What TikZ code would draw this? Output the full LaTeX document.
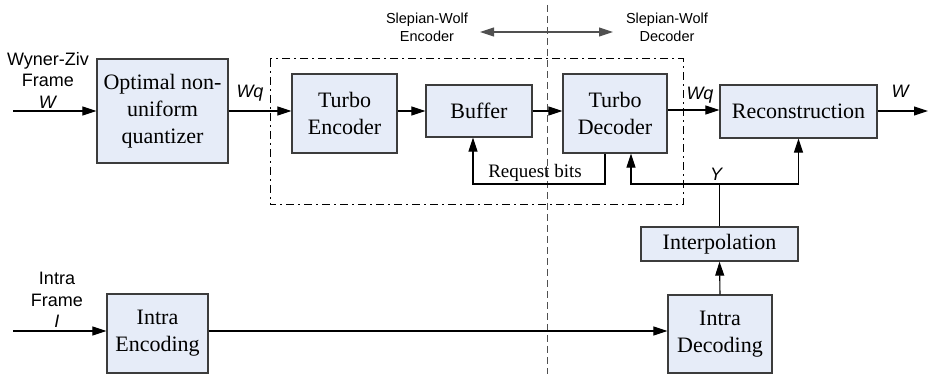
\documentclass[tikz,border=0pt]{standalone}
\usepackage{fontspec}
\setmainfont{Liberation Serif}
\newfontfamily\lsans{Liberation Sans}
\usetikzlibrary{arrows.meta}
\definecolor{boxfill}{HTML}{E6ECF8}
\definecolor{boxline}{HTML}{3C3C3C}
\definecolor{sepline}{HTML}{505050}
\tikzset{
  x=1pt, y=-1pt,
  blk/.style={draw=boxline, fill=boxfill, line width=1.3pt, inner sep=0pt, align=center,
    font=\fontsize{22}{27}\selectfont},
  arr/.style={-{Triangle[length=14pt,width=9pt]}, line width=1.1pt},
  lbl/.style={font=\lsans\fontsize{18}{21.5}\selectfont, align=center, inner sep=0pt},
  ilbl/.style={font=\lsans\itshape\fontsize{18}{21.5}\selectfont, inner sep=0pt},
  swl/.style={font=\lsans\fontsize{14.5}{18}\selectfont, align=center, inner sep=0pt},
}
\begin{document}
\begin{tikzpicture}
\useasboundingbox (0,0) rectangle (930,374);
% separators
\coordinate (vtop) at (547,5);
\coordinate (vbot) at (547,374);
\draw[sepline, line width=1pt, dash pattern=on 7pt off 4pt] (vtop) -- (vbot);
\coordinate (dbA) at (270,59);
\coordinate (dbB) at (683,205);
\draw[line width=1pt, dash pattern=on 8pt off 4pt on 2pt off 4pt] (dbA) rectangle (dbB);
% blocks
\node[blk, minimum width=131pt, minimum height=104pt] (Q) at (162.5,111) {Optimal non-\\uniform\\quantizer};
\node[blk, minimum width=105pt, minimum height=79pt] (TE) at (344.5,113.5) {Turbo\\Encoder};
\node[blk, minimum width=106pt, minimum height=52pt] (Buf) at (479,111) {Buffer};
\node[blk, minimum width=104pt, minimum height=79pt] (TD) at (615,113.5) {Turbo\\Decoder};
\node[blk, minimum width=157pt, minimum height=53pt] (Rec) at (798.5,111.5) {Reconstruction};
\node[blk, minimum width=157pt, minimum height=34pt] (Interp) at (719.5,244) {Interpolation};
\node[blk, minimum width=101pt, minimum height=79pt] (IE) at (157.5,333.5) {Intra\\Encoding};
\node[blk, minimum width=104pt, minimum height=78pt] (ID) at (720,334) {Intra\\Decoding};
% labels
\node[lbl] (lW) at (48,80) {Wyner-Ziv\\Frame\\\textit{W}};
\node[lbl] (lI) at (57,300) {Intra\\Frame\\\textit{I}};
\node[ilbl] (lWq1) at (250,93) {Wq};
\node[ilbl] (lWq2) at (700,95) {Wq};
\node[ilbl] (lWo) at (900,91) {W};
\node[ilbl] (lY) at (716,174) {Y};
\node[font=\fontsize{19}{22}\selectfont, inner sep=0pt] (lRB) at (535,173) {Request bits};
\node[swl] (swE) at (427,27) {Slepian-Wolf\\Encoder};
\node[swl] (swD) at (667,27) {Slepian-Wolf\\Decoder};
% connectors
\coordinate (inW) at (13,111);
\coordinate (inI) at (13,331);
\coordinate (outW) at (928,111);
\draw[arr] (inW) -- (Q.west |- inW);
\draw[arr] (Q.east) -- (TE.west |- Q.east);
\draw[arr] (TE.east |- Buf.west) -- (Buf.west);
\draw[arr] (Buf.east) -- (TD.west |- Buf.east);
\draw[arr] (TD.east |- 0,110) -- (Rec.west |- 0,110);
\draw[arr] (Rec.east |- outW) -- (outW);
\draw[arr] ([xshift=-10pt]TD.south) |- (584,184) -| ([xshift=-6pt]Buf.south);
\coordinate (Yj) at (719.5,184);
\draw[arr] (Interp.north) -- (Yj) -| ([xshift=16pt]TD.south);
\draw[arr] (Yj) -| (Rec.south);
\draw[arr] (inI) -- (IE.west |- inI);
\draw[arr] (IE.east |- inI) -- (ID.west |- inI);
\draw[arr] (ID.north) -- (Interp.south);
\coordinate (daL) at (480,32);
\coordinate (daR) at (613,32);
\draw[{Triangle[length=14pt,width=9pt]}-{Triangle[length=14pt,width=9pt]}, line width=1.1pt, sepline] (daL) -- (daR);
\end{tikzpicture}
\end{document}
